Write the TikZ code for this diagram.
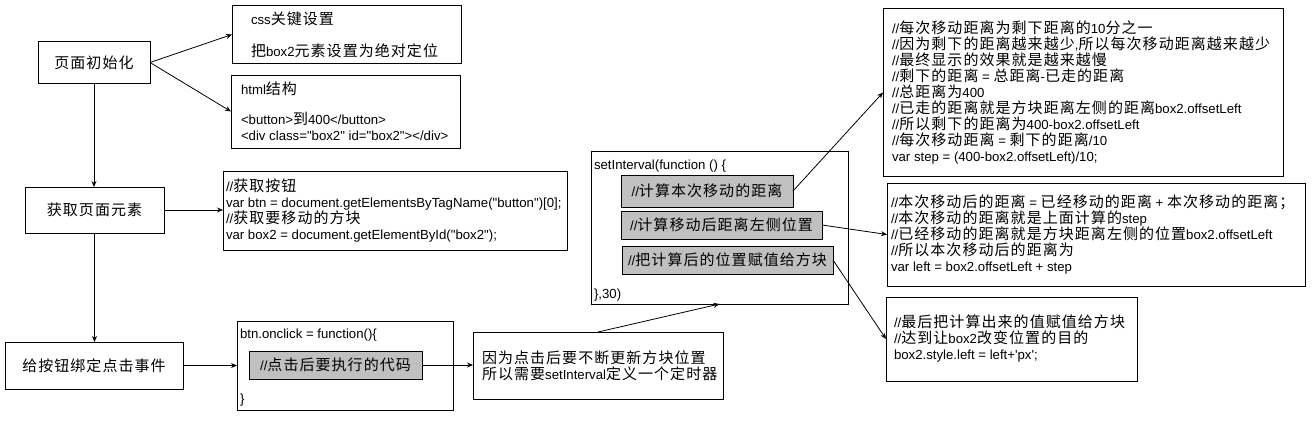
\documentclass[tikz,border=0pt]{standalone}
\usepackage{fontspec}
\setmainfont{Liberation Sans}[Ligatures=TeXOff]
\newfontfamily\zhf{Noto Sans CJK SC}[LetterSpace=7]
\newcommand\zh[1]{{\zhf\fontsize{15}{16}\selectfont#1}}
\usetikzlibrary{arrows.meta}
\definecolor{grayfill}{RGB}{192,192,192}
\lineskiplimit=-100pt
\begin{document}
\begin{tikzpicture}[x=1pt,y=-1pt,
  txt/.style={inner sep=0pt, outer sep=0pt, font=\fontsize{13.2}{16}\selectfont, align=left},
  bx/.style={draw, line width=1pt, inner sep=0pt, outer sep=0pt, font=\fontsize{13.2}{16}\selectfont},
  gbx/.style={bx, fill=grayfill},
  arr/.style={line width=0.8pt, -{Stealth[length=6pt,width=5pt]}}]
\fill[white] (0,0) rectangle (1313,420);
\useasboundingbox (0,0) rectangle (1313,420);

\node[bx, minimum width=112, minimum height=41] (init) at (94,62.5) {\zh{页面初始化}};
\node[bx, minimum width=229, minimum height=57] (css) at (346.5,34.5) {};
\node[txt, anchor=west] (csst) at ([xshift=19pt]css.west) {css\zh{关键设置}\\[16pt]\zh{把}box2\zh{元素设置为绝对定位}};
\node[bx, minimum width=229, minimum height=73] (html) at (345.5,111.5) {};
\node[txt, anchor=west] (htmlt) at ([xshift=10pt]html.west) {html\zh{结构}\\[14pt]<button>\zh{到}400</button>\\<div class="box2" id="box2"></div>};

\node[bx, minimum width=139, minimum height=46] (get) at (94.5,210) {\zh{获取页面元素}};
\node[bx, minimum width=344, minimum height=79] (code) at (395,210.5) {};
\node[txt, anchor=west] (codet) at ([xshift=3pt]code.west) {//\zh{获取按钮}\\var btn = document.getElementsByTagName("button")[0];\\//\zh{获取要移动的方块}\\var box2 = document.getElementById("box2");};

\node[bx, minimum width=178, minimum height=47] (bind) at (94,365.5) {\zh{给按钮绑定点击事件}};
\node[bx, minimum width=216, minimum height=89] (click) at (345,365.5) {};
\node[txt, anchor=base west] (clickt1) at (240,338) {btn.onclick = function()\{};
\node[gbx, minimum width=173, minimum height=28] (g0) at (335.5,365) {//\zh{点击后要执行的代码}};
\node[txt, anchor=base west] (clickt2) at (240,403) {\}};

\node[bx, minimum width=250, minimum height=67] (why) at (598,365.5) {};
\node[txt, anchor=west] (whyt) at ([xshift=9pt]why.west) {\zh{因为点击后要不断更新方块位置}\\\zh{所以需要}setInterval\zh{定义一个定时器}};

\node[bx, minimum width=257, minimum height=153] (timer) at (719.5,227.5) {};
\node[txt, anchor=base west] (timert1) at (594,169) {setInterval(function () \{};
\node[gbx, minimum width=172, minimum height=32] (g1) at (707,191) {//\zh{计算本次移动的距离}};
\node[gbx, minimum width=201, minimum height=28] (g2) at (721.5,225) {//\zh{计算移动后距离左侧位置}};
\node[gbx, minimum width=211, minimum height=28] (g3) at (727.5,260) {//\zh{把计算后的位置赋值给方块}};
\node[txt, anchor=base west] (timert2) at (594,298) {\},30)};

\node[bx, minimum width=400, minimum height=167] (r1) at (1083,92.5) {};
\node[txt, anchor=west] (r1t) at ([xshift=9pt]r1.west) {//\zh{每次移动距离为剩下距离的}10\zh{分之一}\\//\zh{因为剩下的距离越来越少},\zh{所以每次移动距离越来越少}\\//\zh{最终显示的效果就是越来越慢}\\//\zh{剩下的距离} = \zh{总距离}-\zh{已走的距离}\\//\zh{总距离为}400\\//\zh{已走的距离就是方块距离左侧的距离}box2.offsetLeft\\//\zh{所以剩下的距离为}400-box2.offsetLeft\\//\zh{每次移动距离} = \zh{剩下的距离}/10\\var step = (400-box2.offsetLeft)/10;};
\node[bx, minimum width=418, minimum height=103] (r2) at (1096,234.5) {};
\node[txt, anchor=west] (r2t) at ([xshift=4pt]r2.west) {//\zh{本次移动后的距离} = \zh{已经移动的距离} + \zh{本次移动的距离；}\\//\zh{本次移动的距离就是上面计算的}step\\//\zh{已经移动的距离就是方块距离左侧的位置}box2.offsetLeft\\//\zh{所以本次移动后的距离为}\\var left = box2.offsetLeft + step};
\node[bx, minimum width=251, minimum height=84] (r3) at (1011.5,339) {};
\node[txt, anchor=west] (r3t) at ([xshift=8pt]r3.west) {//\zh{最后把计算出来的值赋值给方块}\\//\zh{达到让}box2\zh{改变位置的目的}\\box2.style.left = left+'px';};

\draw[arr] (init.east) -- (css.west);
\draw[arr] (init.east) -- (html.west);
\draw[arr] (init.south) -- (init.south |- get.north);
\draw[arr] (get.east) -- (get.east -| code.west);
\draw[arr] (get.south) -- (get.south |- bind.north);
\draw[arr] (bind.east) -- (bind.east -| click.west);
\draw[arr] (g0.east) -- (g0.east -| why.west);
\draw[arr] (why.north) -- (timer.south);
\draw[arr] (g1.east) -- (r1.west);
\draw[arr] (g2.east) -- (r2.west);
\draw[arr] (g3.east) -- (r3.west);
\end{tikzpicture}
\end{document}
